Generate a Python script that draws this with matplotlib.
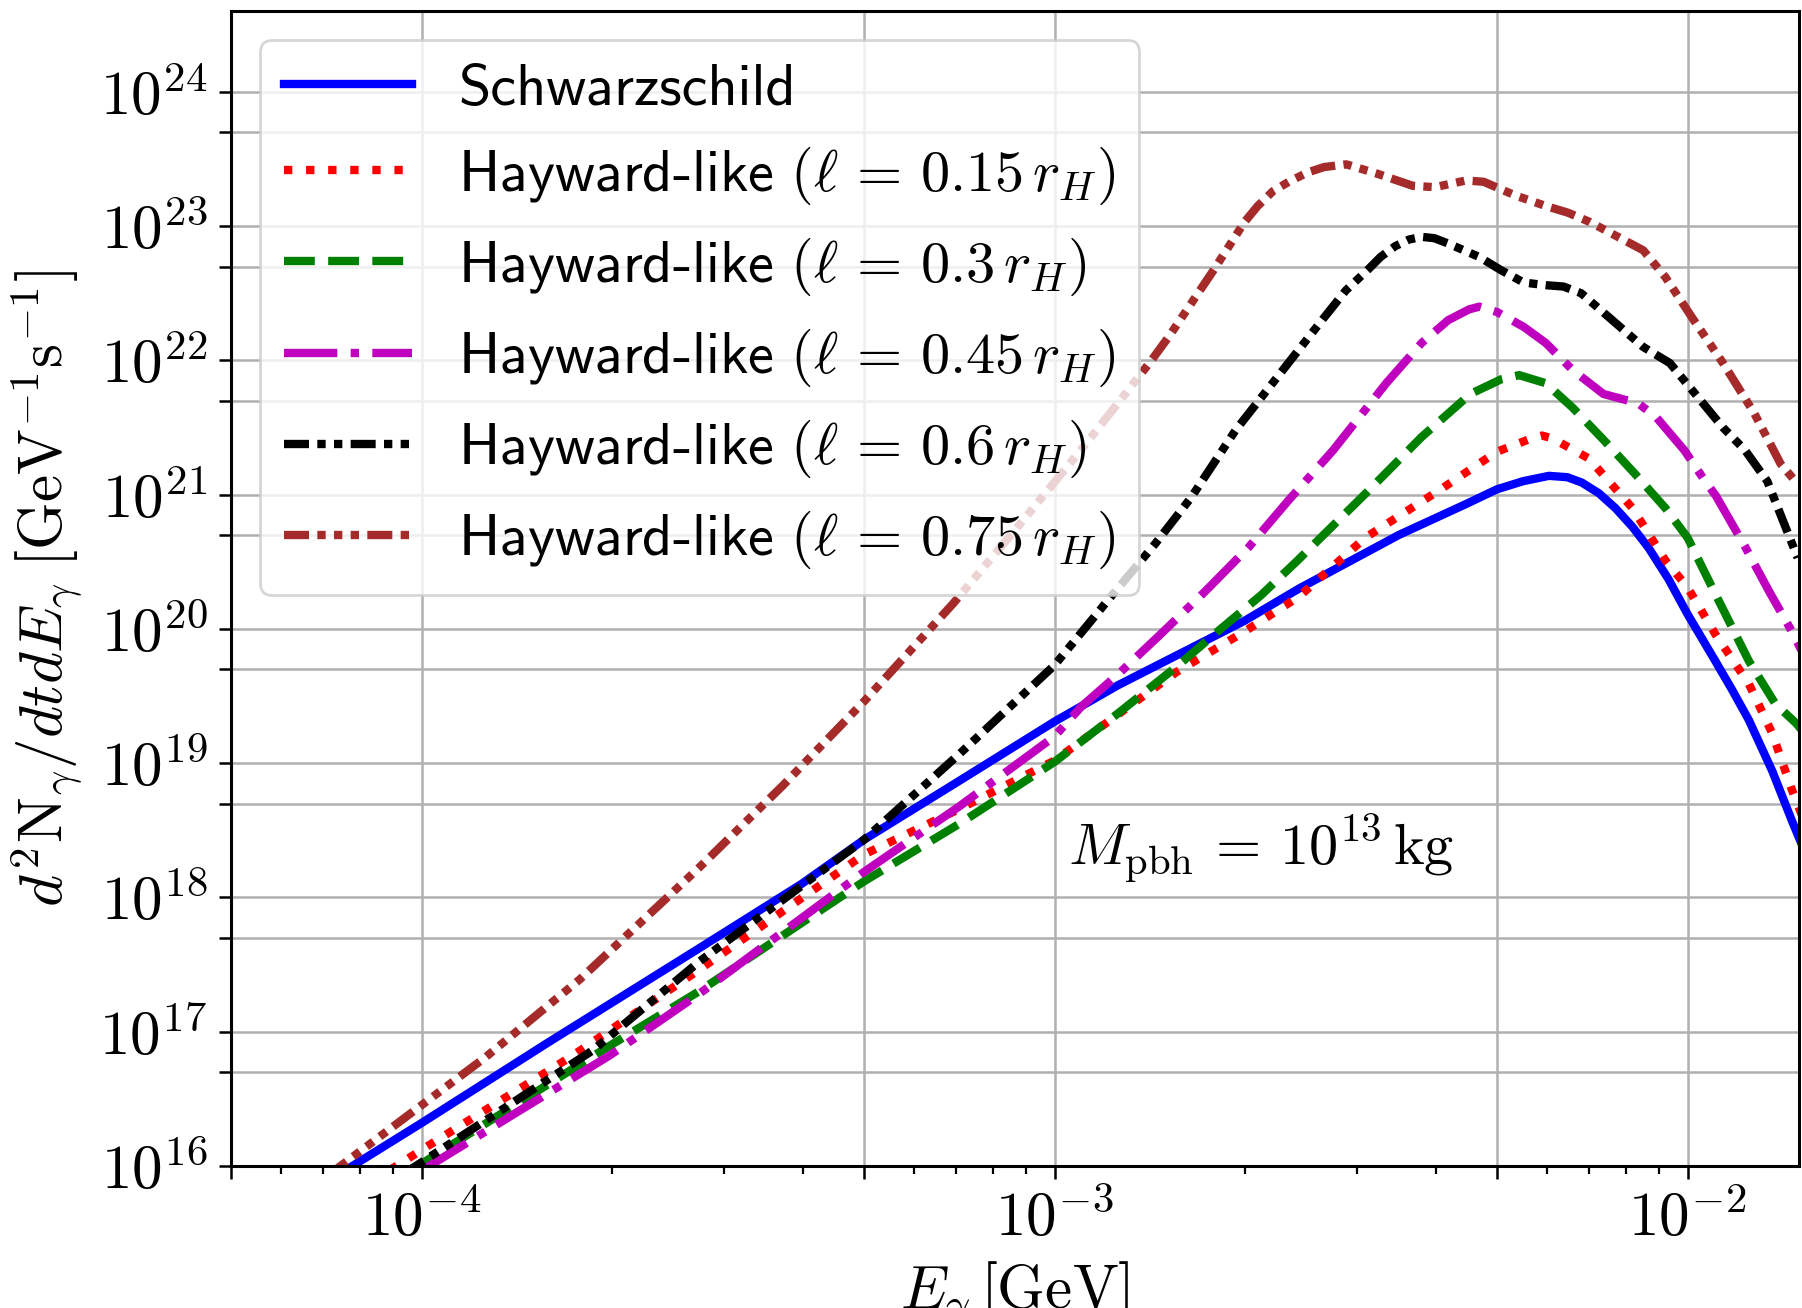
import numpy as np
import matplotlib
matplotlib.use("Agg")
import matplotlib.pyplot as plt
from matplotlib.ticker import (LogLocator, FuncFormatter, NullFormatter, NullLocator)

plt.rcParams["mathtext.fontset"] = "cm"
plt.rcParams["axes.unicode_minus"] = False

# Photon spectra d^2N/dtdE for a 1e13 kg PBH, stored as log10(E [GeV]) / log10(rate)
schw_logE = [-4.14, -4.0, -3.8, -3.562, -3.4, -3.301, -3.15, -3.0, -2.9, -2.8, -2.7,
             -2.614, -2.456, -2.35, -2.301, -2.26, -2.219, -2.19, -2.167, -2.14, -2.114,
             -2.087, -2.061, -2.03, -2.0, -1.956, -1.93, -1.903, -1.866, -1.835, -1.82]
schw_logN = [15.91, 16.32, 16.92, 17.62, 18.1, 18.43, 18.87, 19.31, 19.58, 19.82, 20.06,
             20.3, 20.7, 20.93, 21.04, 21.10, 21.14, 21.13, 21.09, 21.01, 20.90,
             20.76, 20.60, 20.37, 20.11, 19.76, 19.55, 19.32, 18.94, 18.57, 18.40]

hay015_logE = [-4.05, -4.023, -4.0, -3.762, -3.562, -3.301, -3.15, -3.0, -2.807, -2.70,
               -2.614, -2.509, -2.393, -2.301, -2.246, -2.23, -2.214, -2.156, -2.087,
               -2.035, -2.0, -1.956, -1.903, -1.866, -1.835, -1.82]
hay015_logN = [15.97, 16.05, 16.12, 16.82, 17.46, 18.32, 18.66, 19.02, 19.68, 19.98,
               20.24, 20.68, 21.03, 21.32, 21.42, 21.44, 21.42, 21.27, 20.90,
               20.51, 20.31, 19.96, 19.59, 19.22, 18.80, 18.62]

hay030_logE = [-4.02, -3.999, -3.715, -3.562, -3.301, -3.15, -3.0, -2.9, -2.807, -2.74,
               -2.674, -2.616, -2.588, -2.504, -2.420, -2.343, -2.294, -2.266, -2.224,
               -2.182, -2.133, -2.084, -2.035, -2.0, -1.956, -1.903, -1.861, -1.829, -1.82]
hay030_logN = [15.96, 16.02, 16.86, 17.30, 18.12, 18.55, 19.01, 19.37, 19.72, 19.99,
               20.25, 20.51, 20.64, 21.03, 21.43, 21.75, 21.86, 21.89, 21.83,
               21.65, 21.41, 21.16, 20.90, 20.68, 20.26, 19.76, 19.44, 19.30, 19.25]

hay045_logE = [-4.0, -3.988, -3.704, -3.562, -3.301, -3.15, -3.0, -2.958, -2.90, -2.837,
               -2.762, -2.693, -2.630, -2.560, -2.476, -2.420, -2.378, -2.345, -2.329,
               -2.301, -2.259, -2.224, -2.182, -2.133, -2.078, -2.050, -2.005, -1.975,
               -1.955, -1.910, -1.870, -1.835, -1.82]
hay045_logN = [15.96, 16.0, 16.82, 17.28, 18.19, 18.68, 19.2, 19.42, 19.66, 19.94,
               20.28, 20.61, 20.96, 21.33, 21.83, 22.13, 22.30, 22.38, 22.40,
               22.36, 22.25, 22.13, 21.93, 21.75, 21.68, 21.58, 21.33, 21.12,
               20.99, 20.62, 20.27, 19.98, 19.84]

hay060_logE = [-4.03, -4.009, -3.73, -3.562, -3.301, -3.15, -3.0, -2.918, -2.840, -2.784,
               -2.714, -2.644, -2.574, -2.54, -2.504, -2.485, -2.462, -2.44, -2.420,
               -2.400, -2.378, -2.329, -2.294, -2.259, -2.224, -2.196, -2.168, -2.119,
               -2.070, -2.028, -1.993, -1.944, -1.909, -1.874, -1.826]
hay060_logN = [15.94, 16.0, 16.86, 17.52, 18.43, 19.07, 19.73, 20.2, 20.64, 20.98,
               21.48, 21.90, 22.32, 22.52, 22.68, 22.77, 22.85, 22.90, 22.92,
               22.91, 22.87, 22.77, 22.67, 22.58, 22.56, 22.55, 22.50, 22.30,
               22.10, 21.98, 21.78, 21.50, 21.33, 21.10, 20.53]

hay075_logE = [-4.15, -4.128, -3.899, -3.75, -3.562, -3.43, -3.301, -3.16, -3.06, -2.964,
               -2.9, -2.847, -2.819, -2.749, -2.70, -2.679, -2.655, -2.630, -2.60,
               -2.574, -2.539, -2.490, -2.434, -2.399, -2.35, -2.322, -2.273, -2.224,
               -2.189, -2.154, -2.098, -2.07, -2.035, -1.993, -1.944, -1.895, -1.853,
               -1.826]
hay075_logN = [15.92, 16.0, 16.81, 17.39, 18.22, 18.83, 19.46, 20.19, 20.75, 21.3,
               21.68, 22.0, 22.18, 22.67, 23.03, 23.15, 23.26, 23.33, 23.40,
               23.44, 23.46, 23.39, 23.30, 23.29, 23.34, 23.33, 23.23, 23.15,
               23.10, 23.03, 22.89, 22.82, 22.62, 22.32, 21.98, 21.61, 21.23,
               21.08]

labels = [
    "Schwarzschild",
    "Hayward-like" + r"$\ (\ell\,=\,0.15\,r_H)$",
    "Hayward-like" + r"$\ (\ell\,=\,0.3\,r_H)$",
    "Hayward-like" + r"$\ (\ell\,=\,0.45\,r_H)$",
    "Hayward-like" + r"$\ (\ell\,=\,0.6\,r_H)$",
    "Hayward-like" + r"$\ (\ell\,=\,0.75\,r_H)$",
]

series = [
    (schw_logE, schw_logN, dict(color="blue", ls="-")),
    (hay015_logE, hay015_logN, dict(color="red", ls=":")),
    (hay030_logE, hay030_logN, dict(color="green", ls="--")),
    (hay045_logE, hay045_logN, dict(color="m", ls="-.")),
    (hay060_logE, hay060_logN, dict(color="black", dashes=[3, 1, 1, 1, 1, 1])),
    (hay075_logE, hay075_logN, dict(color="brown", dashes=[3, 1, 1, 1, 1, 1, 1, 1])),
]

fig = plt.figure(figsize=(9.01, 6.54), dpi=200)
ax = fig.add_axes([231 / 1802, 1 - 1166 / 1308, 1568 / 1802, 1155 / 1308])

for (lx, ly, style), lab in zip(series, labels):
    ax.plot(10 ** np.asarray(lx), 10 ** np.asarray(ly), lw=3, label=lab, **style)

ax.set_xscale("log")
ax.set_yscale("log")
ax.set_xlim(5e-5, 1.5e-2)
ax.set_ylim(1e16, 4e24)


def decade_label(v, pos):
    exp = np.log10(v)
    if abs(exp - round(exp)) < 1e-6:
        return r"$10^{%d}$" % int(round(exp))
    return ""


ax.xaxis.set_major_locator(LogLocator(base=10, subs=(1.0, 5.0)))
ax.xaxis.set_major_formatter(FuncFormatter(decade_label))
ax.xaxis.set_minor_locator(LogLocator(base=10, subs=(2, 3, 4, 6, 7, 8, 9)))
ax.xaxis.set_minor_formatter(NullFormatter())
ax.yaxis.set_major_locator(LogLocator(base=10, subs=(1.0, 5.0)))
ax.yaxis.set_major_formatter(FuncFormatter(decade_label))
ax.yaxis.set_minor_locator(NullLocator())

ax.tick_params(which="major", length=4.5, width=0.9, labelsize=22, pad=4)
ax.tick_params(which="minor", length=2.8, width=0.8)
for sp in ax.spines.values():
    sp.set_linewidth(1.1)
ax.grid(True, which="major", color="#b0b0b0", lw=0.9)

ax.set_xlabel(r"$E_\gamma\,[\mathrm{GeV}]$", fontsize=22)
ax.set_ylabel(r"$d^2\mathrm{N}_\gamma/dtdE_\gamma\;[\mathrm{GeV}^{-1}\mathrm{s}^{-1}]$",
              fontsize=22)
ax.yaxis.set_label_coords(-0.094, 0.5)

ax.text(1.05e-3, 10 ** 18.24, r"$M_{\rm pbh}\,=\,10^{13}\,{\rm kg}$", fontsize=21,
        va="baseline", ha="left")

ax.legend(loc="upper left", prop={"family": "cmss10", "size": 21}, handlelength=2.2)

fig.savefig("out.png", dpi=200)
